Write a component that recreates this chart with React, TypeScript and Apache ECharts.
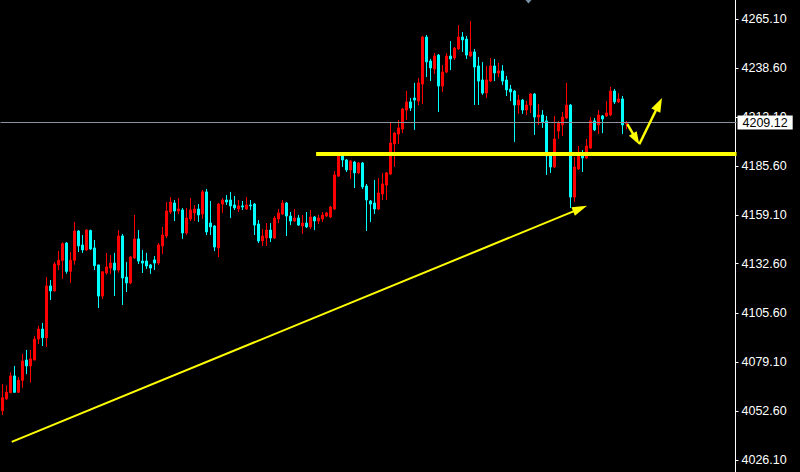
import React, { useEffect, useRef } from "react";
import * as echarts from "echarts";

// Bar slots on the time axis (157 candles + empty space on the right)
const SLOT_COUNT = 184;
const categories: string[] = Array.from({ length: SLOT_COUNT }, (_, i) => String(i + 1));

const opens = [
  4052.8, 4059.3, 4062.6, 4071.7, 4062.8, 4069.3, 4080.3, 4077.1, 4080.3, 4091.7,
  4097.1, 4092.4, 4120.5, 4117.8, 4131.9, 4134.4, 4143.8, 4128.4, 4134.4, 4150.3,
  4142.7, 4140.0, 4150.6, 4141.1, 4131.9, 4115.0, 4127.5, 4130.2, 4132.9, 4129.1,
  4147.6, 4125.3, 4122.1, 4135.7, 4146.0, 4134.0, 4134.0, 4131.9, 4134.6, 4132.9,
  4142.2, 4147.6, 4160.6, 4165.5, 4161.1, 4161.7, 4149.2, 4156.8, 4160.1, 4162.2,
  4159.5, 4171.5, 4154.6, 4153.0, 4141.1, 4164.9, 4167.1, 4167.1, 4164.4, 4162.2,
  4163.9, 4162.2, 4164.4, 4164.9, 4154.1, 4144.9, 4146.5, 4150.8, 4146.5, 4156.8,
  4159.5, 4165.5, 4158.4, 4155.7, 4157.3, 4153.0, 4154.6, 4152.5, 4157.9, 4155.7,
  4156.8, 4158.4, 4157.9, 4162.2, 4180.1, 4191.5, 4188.8, 4183.4, 4187.7, 4181.8,
  4187.2, 4174.7, 4166.6, 4165.5, 4162.2, 4170.4, 4175.2, 4181.2, 4197.5, 4202.9,
  4205.6, 4215.9, 4220.3, 4222.4, 4220.8, 4230.0, 4255.5, 4242.5, 4238.2, 4245.7,
  4228.9, 4236.5, 4245.2, 4244.1, 4249.0, 4255.5, 4254.4, 4245.2, 4247.4, 4239.8,
  4232.2, 4225.1, 4231.6, 4239.8, 4236.0, 4237.1, 4232.2, 4227.3, 4226.2, 4218.6,
  4221.3, 4215.9, 4218.6, 4224.6, 4212.1, 4213.2, 4210.0, 4191.5, 4185.0, 4204.5,
  4207.8, 4211.6, 4218.6, 4168.7, 4183.9, 4191.5, 4189.9, 4195.3, 4210.0, 4207.8,
  4212.7, 4212.7, 4213.2, 4226.2, 4220.3, 4221.9, 4208.4,
];

const closes = [
  4059.9, 4062.8, 4071.7, 4062.8, 4069.3, 4079.8, 4077.1, 4080.9, 4091.7, 4097.1,
  4092.4, 4120.5, 4117.8, 4132.4, 4134.4, 4143.4, 4128.4, 4134.4, 4150.3, 4142.2,
  4140.0, 4150.8, 4140.5, 4131.5, 4115.0, 4128.2, 4130.8, 4132.9, 4129.1, 4147.6,
  4124.8, 4122.1, 4136.2, 4146.0, 4134.0, 4132.9, 4131.3, 4130.2, 4132.9, 4142.7,
  4148.1, 4161.1, 4166.0, 4161.1, 4162.2, 4149.2, 4157.3, 4161.7, 4162.2, 4159.0,
  4171.5, 4149.8, 4152.5, 4141.6, 4164.9, 4167.1, 4166.0, 4163.9, 4162.8, 4163.9,
  4163.3, 4164.4, 4163.9, 4153.5, 4144.9, 4147.6, 4150.8, 4146.5, 4157.3, 4160.1,
  4165.5, 4158.4, 4155.7, 4157.3, 4153.5, 4154.6, 4152.5, 4157.9, 4155.7, 4157.3,
  4159.0, 4160.1, 4163.3, 4180.7, 4191.0, 4188.8, 4183.4, 4188.3, 4181.8, 4187.2,
  4174.2, 4167.1, 4164.9, 4162.2, 4170.9, 4175.8, 4181.8, 4198.0, 4203.4, 4206.2,
  4216.5, 4220.3, 4217.0, 4221.3, 4230.6, 4255.5, 4242.0, 4238.7, 4245.2, 4228.9,
  4236.5, 4245.2, 4243.6, 4249.5, 4255.5, 4253.9, 4245.7, 4247.4, 4239.2, 4231.6,
  4225.1, 4232.2, 4239.8, 4236.0, 4237.1, 4231.6, 4226.8, 4225.7, 4218.6, 4221.3,
  4215.9, 4218.6, 4224.6, 4212.1, 4213.2, 4209.4, 4191.0, 4185.0, 4200.2, 4208.9,
  4212.1, 4218.6, 4168.7, 4185.0, 4191.0, 4189.9, 4196.4, 4210.0, 4205.1, 4213.2,
  4211.0, 4214.3, 4226.2, 4220.3, 4221.9, 4207.8, 4209.1,
];

const lows = [
  4050.5, 4058.6, 4062.3, 4062.6, 4062.6, 4065.3, 4072.7, 4068.0, 4080.3, 4089.0,
  4087.9, 4087.4, 4112.9, 4117.4, 4129.1, 4124.3, 4127.1, 4122.1, 4132.0, 4138.9,
  4138.4, 4139.4, 4140.0, 4129.1, 4108.5, 4113.4, 4126.6, 4127.0, 4115.0, 4127.7,
  4110.2, 4117.2, 4121.5, 4135.1, 4132.4, 4127.5, 4129.7, 4127.0, 4129.1, 4131.9,
  4137.8, 4146.5, 4159.5, 4155.7, 4159.5, 4146.0, 4148.1, 4155.7, 4155.7, 4155.2,
  4156.8, 4148.1, 4148.1, 4139.4, 4136.2, 4160.1, 4164.4, 4157.3, 4161.7, 4160.6,
  4161.7, 4161.7, 4161.7, 4148.1, 4143.8, 4142.2, 4142.2, 4144.3, 4146.0, 4154.6,
  4159.0, 4147.6, 4153.5, 4155.2, 4153.0, 4148.7, 4151.9, 4151.4, 4150.8, 4154.1,
  4155.2, 4157.9, 4157.3, 4161.7, 4179.6, 4185.0, 4182.3, 4178.5, 4173.6, 4181.2,
  4173.1, 4150.3, 4155.2, 4159.5, 4161.7, 4167.1, 4167.1, 4180.7, 4185.0, 4197.5,
  4203.4, 4210.5, 4215.4, 4205.1, 4218.6, 4219.2, 4233.8, 4231.6, 4235.4, 4214.8,
  4225.7, 4236.0, 4237.6, 4243.0, 4248.5, 4247.4, 4243.6, 4244.7, 4218.6, 4218.6,
  4224.1, 4222.4, 4231.1, 4231.6, 4233.8, 4229.5, 4223.5, 4220.8, 4198.6, 4213.8,
  4213.8, 4213.2, 4214.3, 4202.4, 4207.8, 4206.2, 4180.7, 4181.8, 4184.5, 4200.2,
  4201.8, 4211.0, 4162.8, 4166.0, 4183.4, 4182.3, 4189.3, 4194.8, 4204.5, 4202.9,
  4203.4, 4212.1, 4212.7, 4219.2, 4219.7, 4202.9, 4205.6,
];

const highs = [
  4067.3, 4066.6, 4073.7, 4077.1, 4071.0, 4083.6, 4085.8, 4085.8, 4093.4, 4098.9,
  4100.4, 4125.3, 4123.7, 4133.5, 4139.4, 4144.2, 4144.3, 4138.9, 4155.2, 4150.8,
  4148.1, 4151.2, 4151.0, 4145.4, 4131.9, 4128.2, 4138.4, 4137.3, 4138.4, 4150.8,
  4148.7, 4133.5, 4136.7, 4159.0, 4150.8, 4140.0, 4138.4, 4132.4, 4136.7, 4143.8,
  4152.5, 4166.0, 4168.7, 4167.1, 4168.2, 4162.8, 4162.8, 4168.2, 4164.4, 4164.9,
  4172.5, 4173.1, 4166.6, 4153.5, 4165.5, 4168.2, 4169.8, 4171.5, 4169.3, 4167.1,
  4166.6, 4168.7, 4167.1, 4165.5, 4156.2, 4151.4, 4154.6, 4154.6, 4158.4, 4162.2,
  4167.1, 4166.0, 4160.6, 4162.2, 4159.0, 4159.0, 4160.6, 4161.7, 4158.4, 4159.0,
  4160.6, 4160.6, 4163.9, 4182.8, 4192.1, 4192.1, 4189.3, 4188.8, 4188.3, 4187.7,
  4187.7, 4175.8, 4167.1, 4178.0, 4179.0, 4181.8, 4182.3, 4208.9, 4204.0, 4210.5,
  4217.0, 4226.2, 4222.4, 4230.6, 4233.3, 4256.1, 4256.6, 4243.6, 4246.8, 4246.3,
  4240.3, 4246.8, 4253.3, 4250.1, 4262.0, 4258.2, 4256.1, 4264.2, 4249.0, 4244.7,
  4241.9, 4239.8, 4244.1, 4243.6, 4241.4, 4240.3, 4234.4, 4229.5, 4226.8, 4224.1,
  4221.9, 4220.8, 4225.1, 4225.1, 4219.2, 4215.9, 4212.7, 4192.1, 4212.7, 4210.0,
  4214.8, 4230.6, 4219.2, 4190.4, 4196.4, 4194.2, 4200.2, 4212.1, 4211.6, 4215.9,
  4213.2, 4220.8, 4228.4, 4227.3, 4225.1, 4223.5, 4210.0,
];

// Price scale ticks (right axis)
const yTicks = [4026.1, 4052.6, 4079.1, 4105.6, 4132.6, 4159.1, 4185.6, 4212.1, 4238.6, 4265.1];
const Y_MIN = 4019.59;
const Y_MAX = 4275.57;
const lastPrice = 4209.12;

// Hand-drawn annotations, as [bar index, price]
const supportLine = [[78.4, 4192.2], [183.5, 4192.2]];
const trendLine = [[2.3, 4035.9], [144.4, 4162.4]];
const arrowDown = [[156.2, 4208.2], [158.4, 4200.1]];
const arrowUp = [[159.2, 4197.3], [164.1, 4219.0]];

const YELLOW = "#ffff00";
const UP = "#ff0000";
const DOWN = "#00ffff";

export default function App() {
  const ref = useRef<HTMLDivElement>(null);

  useEffect(() => {
    document.body.style.margin = "0";
    document.body.style.background = "#000";
    if (!ref.current) return;
    const chart = echarts.init(ref.current, undefined, { renderer: "svg" });

    const candleData = opens.map((o, i) => [o, closes[i], lows[i], highs[i]]);

    const arrowPair = (pts: number[][], width: number, head: number[]) => [
      { coord: pts[0], symbol: "none", lineStyle: { width, color: YELLOW, type: "solid" } },
      { coord: pts[1], symbol: "triangle", symbolSize: head },
    ];

    chart.setOption({
      animation: false,
      backgroundColor: "#000000",
      grid: { left: 0.5, right: 63.5, top: 0, bottom: 0 },
      xAxis: [
        { type: "category", data: categories, boundaryGap: true, show: false },
        { type: "value", min: -0.5, max: SLOT_COUNT - 0.5, show: false },
      ],
      yAxis: {
        type: "value",
        position: "right",
        offset: -1,
        min: Y_MIN,
        max: Y_MAX,
        axisLine: { show: true, onZero: false, lineStyle: { color: "#ffffff", width: 1 } },
        axisTick: { show: true, inside: false, length: 3, lineStyle: { color: "#ffffff" }, customValues: yTicks },
        axisLabel: {
          show: true,
          customValues: yTicks,
          formatter: (v: number) => v.toFixed(2),
          color: "#ffffff",
          fontFamily: "Liberation Sans",
          fontSize: 12.5,
          margin: 6,
        },
        splitLine: { show: false },
      },
      graphic: [
        {
          type: "polygon",
          shape: { points: [[525.5, 0], [531.5, 0], [528.5, 3.5]] },
          style: { fill: "#7b8ea6" },
          silent: true,
        },
      ],
      series: [
        {
          type: "candlestick",
          xAxisIndex: 0,
          yAxisIndex: 0,
          data: candleData,
          barWidth: 2,
          itemStyle: {
            color: UP,
            color0: DOWN,
            borderColor: UP,
            borderColor0: DOWN,
            borderWidth: 1,
          },
          markLine: {
            silent: true,
            symbol: ["none", "none"],
            animation: false,
            lineStyle: { color: "#8a939e", width: 1, type: "solid" },
            emphasis: { disabled: true },
            label: {
              show: true,
              position: "end",
              distance: 1,
              formatter: lastPrice.toFixed(2),
              color: "#000000",
              backgroundColor: "#ffffff",
              fontFamily: "Liberation Sans",
              fontSize: 12.5,
              lineHeight: 13,
              padding: [1, 5, 0, 5],
            },
            data: [{ yAxis: lastPrice }],
          },
        },
        {
          type: "line",
          xAxisIndex: 1,
          yAxisIndex: 0,
          data: [],
          silent: true,
          markLine: {
            silent: true,
            animation: false,
            symbol: ["none", "none"],
            label: { show: false },
            emphasis: { disabled: true },
            lineStyle: { color: YELLOW, type: "solid", width: 2 },
            itemStyle: { color: YELLOW },
            data: [
              [
                { coord: supportLine[0], lineStyle: { width: 4, color: YELLOW, type: "solid" } },
                { coord: supportLine[1] },
              ],
              arrowPair(trendLine, 2, [9, 15]),
              arrowPair(arrowDown, 2.5, [9, 13]),
              arrowPair(arrowUp, 2.5, [10, 14]),
            ],
          },
        },
      ],
    });

    return () => chart.dispose();
  }, []);

  return <div ref={ref} style={{ width: 800, height: 472, background: "#000" }} />;
}
